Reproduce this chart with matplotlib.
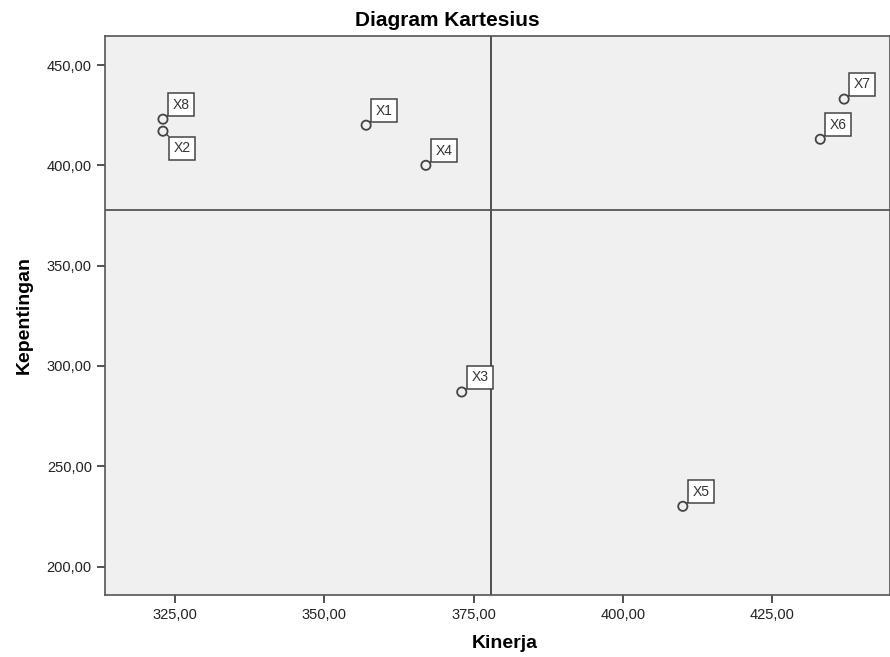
import matplotlib
matplotlib.use('Agg')
import matplotlib.pyplot as plt
from matplotlib.ticker import FuncFormatter
import numpy as np

labels = ['X1', 'X2', 'X3', 'X4', 'X5', 'X6', 'X7', 'X8']
kinerja = [357, 323, 373, 367, 410, 433, 437, 323]
kepentingan = [420, 417, 287, 400, 230, 413, 433, 423]
x_ticks = [325, 350, 375, 400, 425]
y_ticks = [200, 250, 300, 350, 400, 450]

plt.rcParams['font.family'] = ['Liberation Sans', 'DejaVu Sans']

fig = plt.figure(figsize=(8.9, 6.57), dpi=100)
ax = fig.add_axes([0.118, 0.095, 0.8815, 0.85])
ax.set_facecolor('#f0f0f0')

# garis rata-rata (kuadran)
ax.axvline(np.mean(kinerja), color='#222222', lw=1.1, zorder=1)
ax.axhline(np.mean(kepentingan), color='#555555', lw=1.3, zorder=1)

ax.scatter(kinerja, kepentingan, s=44, facecolors='none', edgecolors='#444444',
           linewidths=1.3, zorder=3)

for lab, x, y in zip(labels, kinerja, kepentingan):
    if lab == 'X2':
        xy_off, ha, va = (7.6, -7.3), 'left', 'top'
    else:
        xy_off, ha, va = (6.9, 5.5), 'left', 'bottom'
    ax.annotate(lab, (x, y), xytext=xy_off, textcoords='offset points',
                ha=ha, va=va, fontsize=10, color='#333333', zorder=4,
                bbox=dict(boxstyle='square,pad=0.33', fc='white', ec='#444444', lw=1.1),
                arrowprops=dict(arrowstyle='-', color='#444444', lw=1,
                                shrinkA=0, shrinkB=3.4))

ax.set_xlim(313.3, 444.6)
ax.set_ylim(186, 464.4)
ax.set_xticks(x_ticks)
ax.set_yticks(y_ticks)
fmt = FuncFormatter(lambda v, p: f"{v:.2f}".replace('.', ','))
ax.xaxis.set_major_formatter(fmt)
ax.yaxis.set_major_formatter(fmt)
ax.tick_params(length=6, width=1.3, color='#444444', labelsize=10.5, labelcolor='#222222')

for s in ax.spines.values():
    s.set_color('#555555')
    s.set_linewidth(1.2)

ax.set_xlabel('Kinerja', fontsize=14, fontweight='bold', labelpad=13)
ax.xaxis.set_label_coords(0.509, -0.072)
ax.set_ylabel('Kepentingan', fontsize=14, fontweight='bold', labelpad=10)
fig.text(0.503, 0.969, 'Diagram Kartesius', ha='center', va='center',
         fontsize=15, fontweight='bold')

plt.savefig('out.png', dpi=100)
